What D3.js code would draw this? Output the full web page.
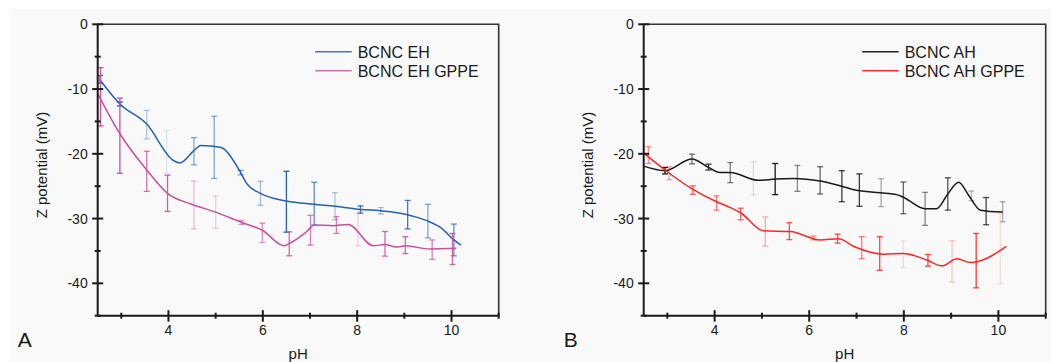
<!DOCTYPE html>
<html>
<head>
<meta charset="utf-8">
<script src="https://cdn.jsdelivr.net/npm/d3@7"></script>
<style>
  body { margin: 0; background: #fff; }
  text { font-family: Arial, "Liberation Sans", sans-serif; fill: #1a1a1a; }
</style>
</head>
<body>
<div id="chart"></div>
<script>
// ---- panel A : BCNC EH ----
const ehX = [2.55, 2.97, 3.54, 4.10, 4.24, 4.54, 4.69, 5.10, 5.53, 5.66, 5.95, 6.50, 7.09, 7.53, 8.07, 8.50, 9.07, 9.22, 9.50, 9.79, 10.05, 10.20];
const ehY = [-8.6, -12.3, -15.4, -21.0, -21.4, -19.5, -18.7, -19.0, -22.9, -24.6, -26.1, -27.3, -27.8, -28.1, -28.6, -28.8, -29.4, -29.7, -30.4, -31.5, -33.3, -34.1];
const ehErrX = [2.55, 2.97, 3.54, 3.96, 4.54, 4.97, 5.53, 5.95, 6.50, 7.09, 7.53, 8.07, 8.50, 9.07, 9.50, 10.05];
const ehErrY = [-8.5, -12.3, -15.5, -19.7, -19.6, -19.0, -22.9, -26.1, -27.4, -27.7, -28.1, -28.6, -28.8, -29.4, -30.4, -33.3];
const ehErr = [0.6, 0.3, 2.2, 3.3, 2.1, 4.8, 0.35, 1.85, 4.7, 3.3, 2.1, 0.55, 0.5, 2.2, 2.6, 2.45];
const ehErrAlpha = [1, 1, 0.35, 0.12, 0.55, 0.55, 0.6, 0.4, 1, 0.7, 0.35, 0.9, 0.4, 0.85, 0.55, 0.7];

// ---- panel A : BCNC EH GPPE ----
const ehgX = [2.50, 2.97, 3.54, 3.98, 4.49, 5.00, 5.55, 5.99, 6.45, 6.60, 6.90, 7.10, 7.49, 7.81, 8.34, 8.59, 8.83, 9.02, 9.54, 10.10];
const ehgY = [-10.7, -16.9, -22.5, -26.1, -27.8, -29.0, -30.6, -31.8, -34.2, -33.7, -32.2, -31.0, -31.1, -30.9, -34.2, -34.0, -34.4, -34.2, -34.7, -34.6];
const ehgErrX = [2.56, 2.97, 3.54, 3.98, 4.54, 5.00, 5.55, 5.99, 6.56, 7.01, 7.56, 8.02, 8.59, 9.02, 9.59, 10.02];
const ehgErrY = [-11.2, -17.2, -22.7, -26.1, -27.9, -29.0, -30.6, -32.2, -33.9, -31.8, -31.0, -31.7, -33.9, -34.1, -34.8, -34.7];
const ehgErr = [4.5, 5.8, 3.1, 2.8, 3.7, 2.5, 0.3, 1.5, 1.85, 2.3, 1.3, 2.5, 1.9, 1.3, 1.5, 2.4];
const ehgErrAlpha = [1, 1, 0.8, 0.9, 0.35, 0.25, 0.6, 0.6, 0.85, 0.7, 0.75, 0.25, 0.85, 0.85, 0.7, 0.85];

// ---- panel B : BCNC AH ----
const ahX = [2.50, 2.95, 3.52, 3.87, 4.11, 4.33, 4.93, 5.28, 5.67, 6.23, 6.69, 6.97, 7.50, 7.85, 7.99, 8.45, 8.69, 8.93, 9.16, 9.37, 9.62, 10.09];
const ahY = [-21.9, -22.6, -20.8, -22.1, -22.9, -22.9, -24.1, -23.9, -23.8, -24.2, -25.0, -25.6, -26.0, -26.3, -26.7, -28.5, -28.5, -26.2, -24.4, -26.4, -28.7, -29.0];
const ahErrX = [2.95, 3.52, 3.87, 4.33, 4.82, 5.28, 5.75, 6.23, 6.69, 7.06, 7.52, 7.99, 8.45, 8.93, 9.43, 9.74, 10.09];
const ahErrY = [-22.6, -20.8, -22.05, -22.9, -23.8, -23.9, -23.8, -24.1, -25.0, -25.6, -26.0, -26.8, -28.5, -26.2, -26.5, -28.85, -28.95];
const ahErr = [0.5, 0.75, 0.45, 1.55, 2.55, 2.4, 2.0, 2.1, 2.4, 2.5, 2.15, 2.45, 2.55, 2.5, 0.75, 2.1, 1.55];
const ahErrAlpha = [1, 0.6, 0.85, 0.55, 0.12, 1, 0.5, 0.65, 0.85, 0.85, 0.35, 0.65, 0.5, 0.75, 0.3, 0.8, 0.35];

// ---- panel B : BCNC AH GPPE ----
const ahgX = [2.50, 2.95, 3.54, 4.04, 4.33, 4.55, 5.03, 5.60, 6.23, 6.62, 6.97, 7.57, 7.99, 8.49, 8.81, 9.12, 9.41, 10.17];
const ahgY = [-19.9, -22.5, -25.5, -27.4, -28.3, -29.1, -31.9, -32.0, -33.3, -33.1, -34.4, -35.5, -35.4, -36.4, -37.3, -36.2, -36.8, -34.3];
const ahgErrX = [2.60, 3.04, 3.54, 4.04, 4.55, 5.07, 5.58, 6.09, 6.60, 7.11, 7.49, 7.99, 8.51, 9.02, 9.53, 10.04];
const ahgErrY = [-20.2, -23.0, -25.6, -27.6, -29.3, -32.0, -31.95, -33.0, -33.1, -34.5, -35.4, -35.5, -36.45, -36.6, -36.5, -34.7];
const ahgErr = [1.3, 1.0, 0.65, 1.1, 0.9, 2.25, 1.3, 0.3, 0.7, 1.7, 2.6, 2.05, 0.9, 3.2, 4.2, 5.4];
const ahgErrAlpha = [0.5, 0.4, 0.7, 0.6, 0.7, 0.35, 0.8, 0.5, 0.8, 0.6, 0.85, 0.15, 0.85, 0.25, 0.9, 0.15];

const xTicks = [4, 6, 8, 10];
const xMinor = [3, 5, 7, 9, 11];
const yTicks = [0, -10, -20, -30, -40];
const yMinor = [-5, -15, -25, -35, -45];

const width = 1051, height = 362;
const svg = d3.select('#chart').append('svg')
  .attr('width', width)
  .attr('height', height);

svg.append('rect')
  .attr('x', 10).attr('y', 9)
  .attr('width', width - 10).attr('height', height - 9)
  .attr('fill', '#f9f9f9');

const plotTop = 24.3, plotBottom = 315.7;

function drawPanel(left, right, letter, seriesList) {
  const x = d3.scaleLinear().domain([2.5, 11]).range([left, right]);
  const y = d3.scaleLinear().domain([0, -45]).range([plotTop, plotBottom]);
  const g = svg.append('g');

  // frame top / right
  g.append('path')
    .attr('d', `M${left},${plotTop}H${right}V${plotBottom}`)
    .attr('fill', 'none')
    .attr('stroke', '#333')
    .attr('stroke-width', 1.6);

  // series
  const line = d3.line()
    .x(d => x(d[0]))
    .y(d => y(d[1]))
    .curve(d3.curveMonotoneX);

  seriesList.forEach(s => {
    const pts = s.xs.map((v, i) => [v, s.ys[i]]);
    g.append('path')
      .attr('d', line(pts))
      .attr('fill', 'none')
      .attr('stroke', s.color)
      .attr('stroke-width', 1.5);

    const bars = s.ex.map((v, i) => ({ x: v, y: s.ey[i], e: s.ee[i], a: s.ea[i] }));
    const eb = g.selectAll(null).data(bars).enter().append('g')
      .attr('stroke', s.color)
      .attr('stroke-opacity', d => d.a)
      .attr('stroke-width', 1.3);
    eb.append('line')
      .attr('x1', d => x(d.x)).attr('x2', d => x(d.x))
      .attr('y1', d => y(d.y + d.e)).attr('y2', d => y(d.y - d.e));
    eb.append('line')
      .attr('x1', d => x(d.x) - 3).attr('x2', d => x(d.x) + 3)
      .attr('y1', d => y(d.y + d.e)).attr('y2', d => y(d.y + d.e));
    eb.append('line')
      .attr('x1', d => x(d.x) - 3).attr('x2', d => x(d.x) + 3)
      .attr('y1', d => y(d.y - d.e)).attr('y2', d => y(d.y - d.e));
  });

  // axes lines
  g.append('line')
    .attr('x1', left).attr('x2', left).attr('y1', plotTop).attr('y2', plotBottom)
    .attr('stroke', '#1a1a1a').attr('stroke-width', 2);
  g.append('line')
    .attr('x1', left).attr('x2', right).attr('y1', plotBottom).attr('y2', plotBottom)
    .attr('stroke', '#1a1a1a').attr('stroke-width', 2);

  // y ticks
  g.selectAll(null).data(yTicks).enter().append('line')
    .attr('x1', left - 5.5).attr('x2', left + 5.5)
    .attr('y1', d => y(d)).attr('y2', d => y(d))
    .attr('stroke', '#1a1a1a').attr('stroke-width', 2);
  g.selectAll(null).data(yMinor).enter().append('line')
    .attr('x1', left - 3).attr('x2', left + 3)
    .attr('y1', d => y(d)).attr('y2', d => y(d))
    .attr('stroke', '#1a1a1a').attr('stroke-width', 2);
  g.selectAll(null).data(yTicks).enter().append('text')
    .attr('x', left - 10).attr('y', d => y(d) + 5)
    .attr('text-anchor', 'end')
    .style('font-size', '14px')
    .text(d => d);

  // x ticks
  g.selectAll(null).data(xTicks).enter().append('line')
    .attr('x1', d => x(d)).attr('x2', d => x(d))
    .attr('y1', plotBottom - 5.5).attr('y2', plotBottom + 6)
    .attr('stroke', '#1a1a1a').attr('stroke-width', 2);
  g.selectAll(null).data(xMinor).enter().append('line')
    .attr('x1', d => x(d)).attr('x2', d => x(d))
    .attr('y1', plotBottom - 3).attr('y2', plotBottom + 3)
    .attr('stroke', '#1a1a1a').attr('stroke-width', 2);
  g.selectAll(null).data(xTicks).enter().append('text')
    .attr('x', d => x(d)).attr('y', 335)
    .attr('text-anchor', 'middle')
    .style('font-size', '14px')
    .text(d => d);

  // axis titles
  g.append('text')
    .attr('x', (left + right) / 2).attr('y', 359)
    .attr('text-anchor', 'middle')
    .style('font-size', '15px')
    .text('pH');
  g.append('text')
    .attr('transform', `translate(${left - 51},165) rotate(-90)`)
    .attr('text-anchor', 'middle')
    .style('font-size', '15px')
    .text('Z potential (mV)');

  // panel letter
  g.append('text')
    .attr('x', left - 80).attr('y', 347)
    .style('font-size', '21px')
    .text(letter);

  // legend
  seriesList.forEach((s, i) => {
    const ly = 51.7 + i * 19;
    g.append('line')
      .attr('x1', right - 183.5).attr('x2', right - 147)
      .attr('y1', ly).attr('y2', ly)
      .attr('stroke', s.legendColor).attr('stroke-width', 1.5);
    g.append('text')
      .attr('x', right - 141).attr('y', ly + 6.3)
      .style('font-size', '16px')
      .text(s.name);
  });
}

drawPanel(97.7, 498.7, 'A', [
  { name: 'BCNC EH', color: '#2560b5', legendColor: '#3a78c8', xs: ehX, ys: ehY, ex: ehErrX, ey: ehErrY, ee: ehErr, ea: ehErrAlpha },
  { name: 'BCNC EH GPPE', color: '#c8509f', legendColor: '#d072b2', xs: ehgX, ys: ehgY, ex: ehgErrX, ey: ehgErrY, ee: ehgErr, ea: ehgErrAlpha }
]);

drawPanel(643.7, 1045.7, 'B', [
  { name: 'BCNC AH', color: '#1a1a1a', legendColor: '#222', xs: ahX, ys: ahY, ex: ahErrX, ey: ahErrY, ee: ahErr, ea: ahErrAlpha },
  { name: 'BCNC AH GPPE', color: '#ff2424', legendColor: '#ff3030', xs: ahgX, ys: ahgY, ex: ahgErrX, ey: ahgErrY, ee: ahgErr, ea: ahgErrAlpha }
]);
</script>
</body>
</html>
